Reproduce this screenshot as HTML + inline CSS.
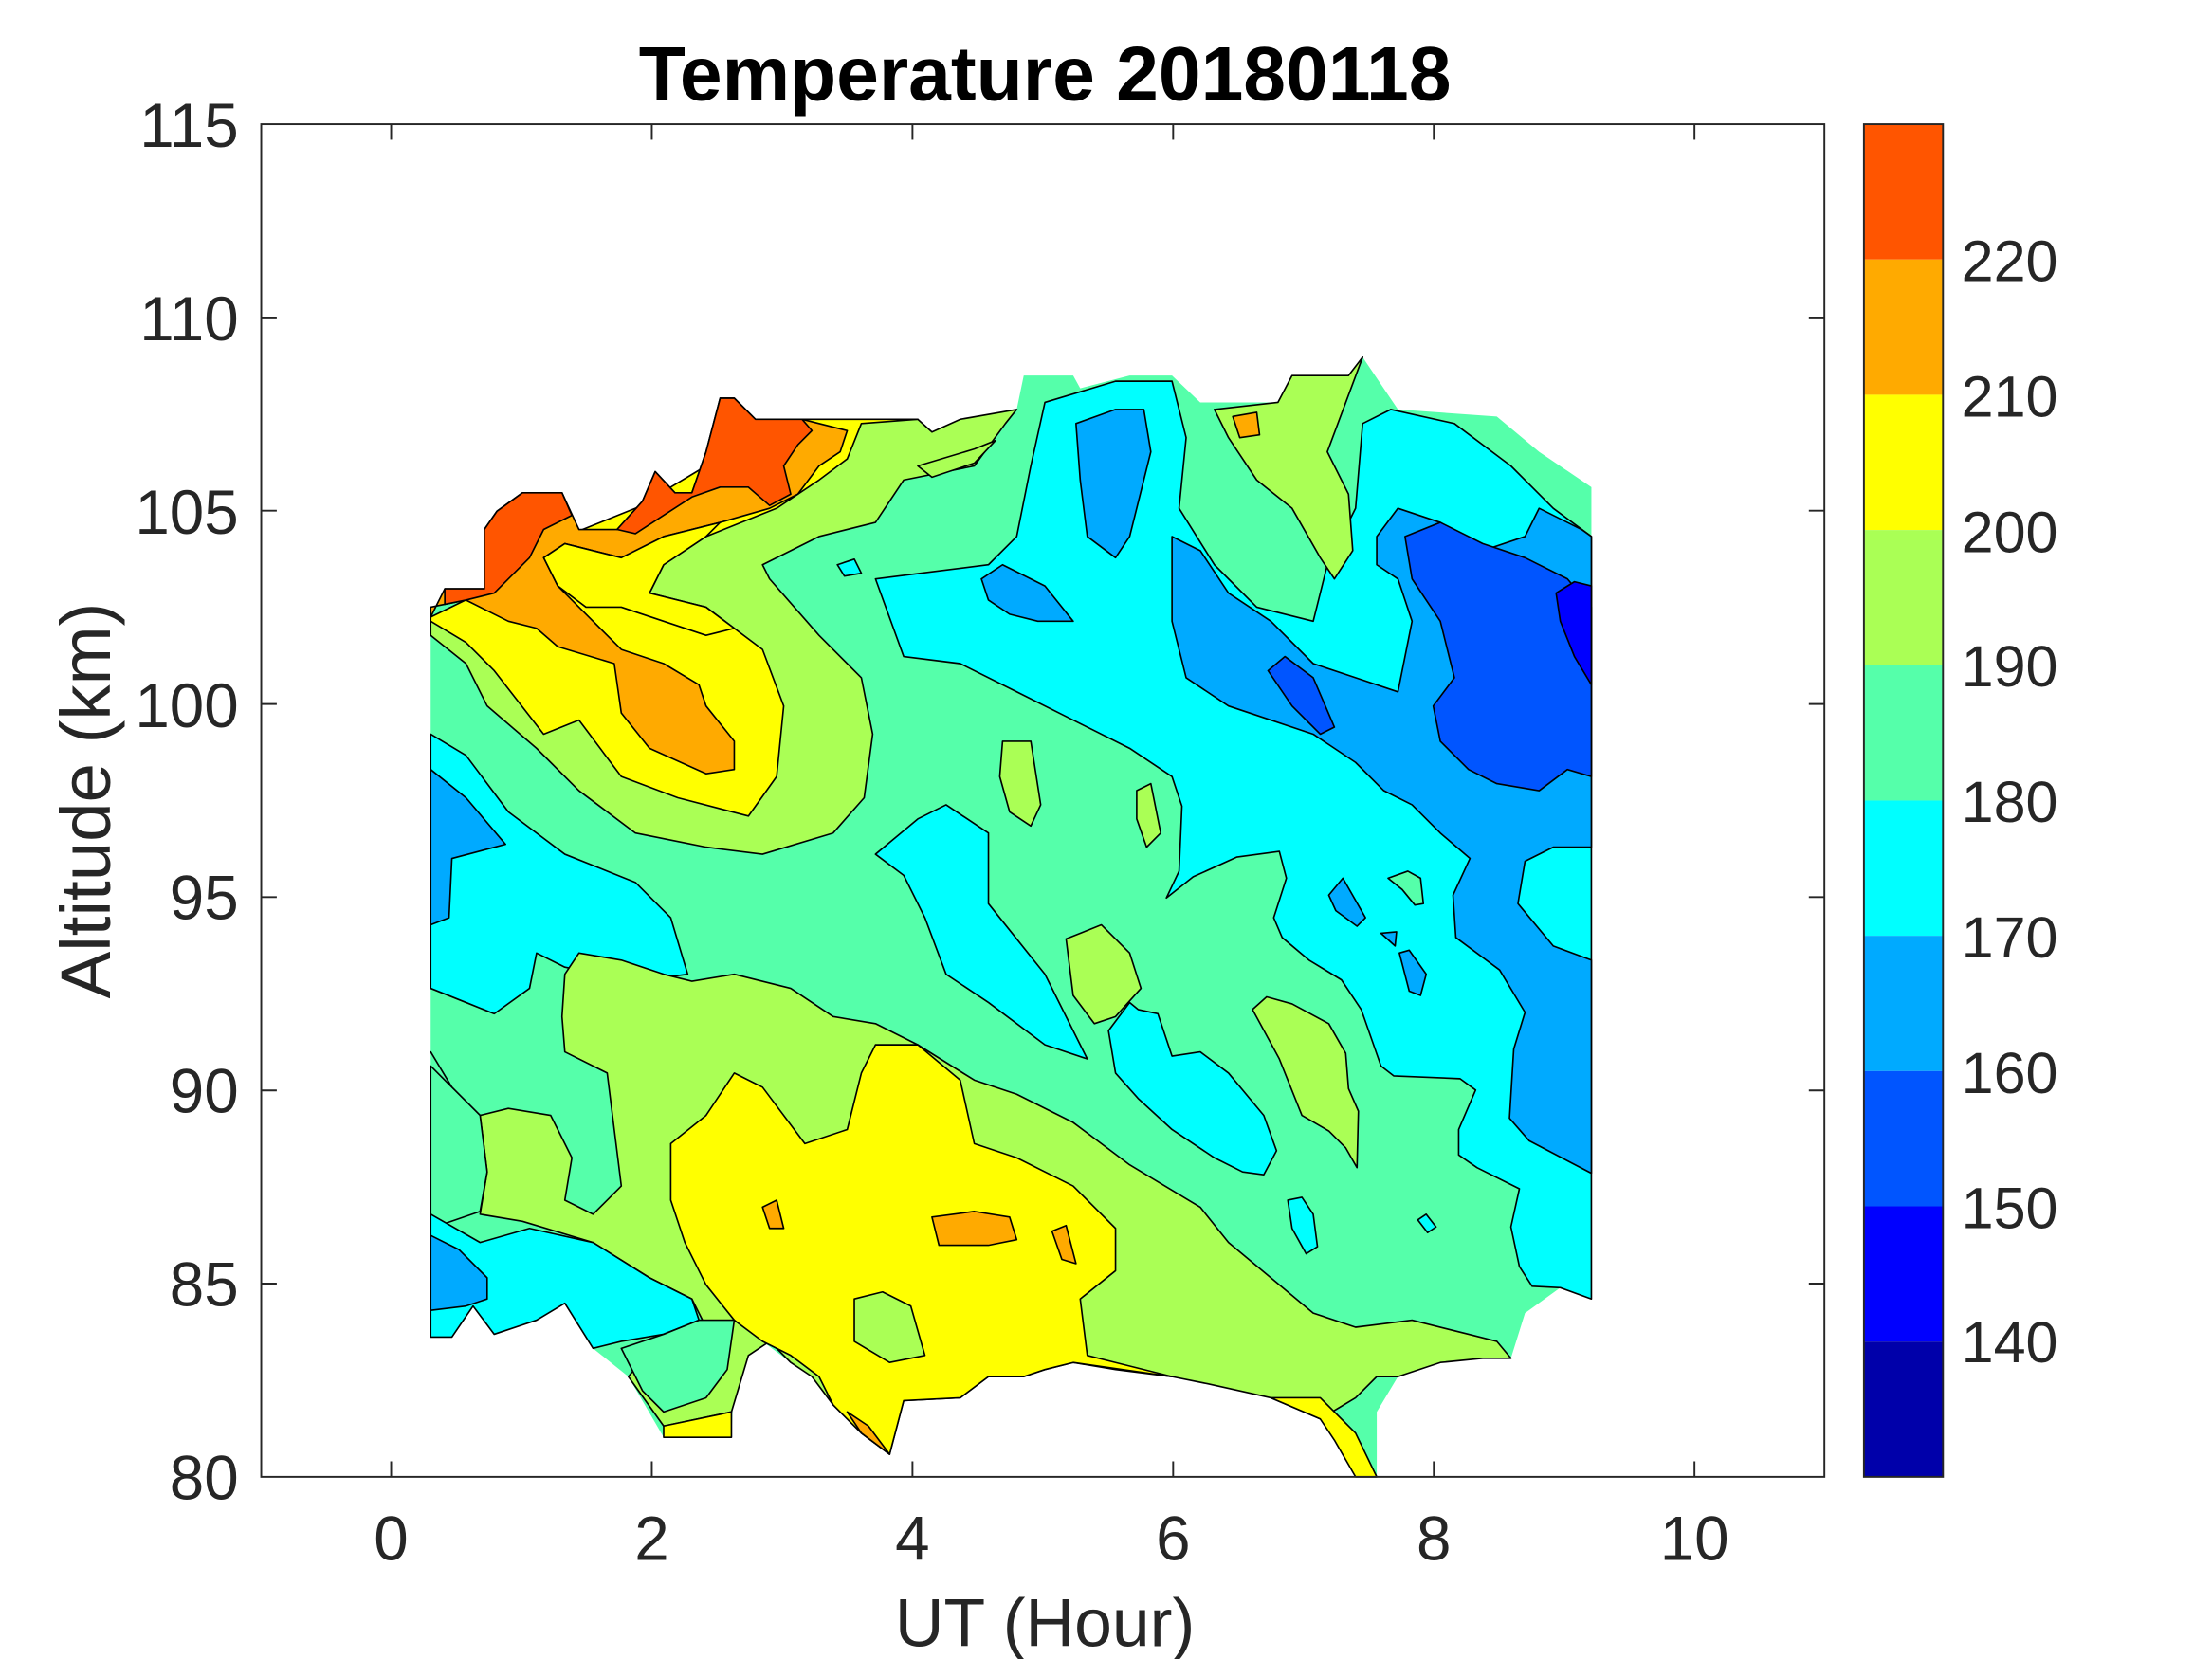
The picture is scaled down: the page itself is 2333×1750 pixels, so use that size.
<!DOCTYPE html>
<html><head><meta charset="utf-8"><style>html,body{margin:0;padding:0;background:#fff}svg{display:block}</style></head>
<body>
<svg width="2333" height="1750" viewBox="0 0 1566.5 1175" preserveAspectRatio="none" xmlns="http://www.w3.org/2000/svg" font-family="Liberation Sans, Arial, sans-serif">
<rect width="1566.5" height="1175" fill="#fff"/>
<g stroke-linejoin="round">
<polygon fill="#55FFAA" points="305,437 315,417 343,417 343,375 352,362 370,349 398,349 410,375 437,375 455,355 464,334 478,349 490,349 500,320 510,282 520,282 535,297 568,297 650,297 660,306 680,297 720,290 725,266 760,266 765,275 800,266 830,266 850,285 905,285 915,266 955,266 965,253 990,290 1060,295 1090,320 1127,345 1127,920 1105,912 1080,930 1070,962 1050,962 1020,965 990,975 975,1000 975,1046 960,1046 945,1020 935,1005 900,990 855,980 830,975 790,970 760,965 740,970 725,975 700,975 680,990 640,992 630,1030 610,1015 590,995 575,975 560,965 540,950 520,970 518,1018 470,1018 445,975 420,955 400,923 380,935 350,945 335,925 320,947 305,947"/>
<g stroke="#000" stroke-width="1.1">
<polygon fill="#AAFF55" points="305,450 330,470 345,500 380,530 410,560 450,590 500,600 540,605 590,590 612,565 618,520 610,480 580,450 545,410 540,400 580,380 620,370 640,340 690,330 712,300 720,290 680,297 660,306 650,297 568,297 535,297 510,290 500,330 470,360 420,380 350,420 305,437"/>
<polygon fill="#FFFF00" points="305,440 330,455 350,475 385,520 410,510 440,550 480,565 530,578 550,550 555,500 540,460 500,430 460,420 470,400 500,380 550,360 580,340 600,325 610,300 650,297 568,297 540,310 500,330 450,360 400,380 340,420 305,437"/>
<polygon fill="#FFAA00" points="305,437 315,417 343,417 343,375 352,362 370,349 398,349 410,375 437,375 455,355 464,334 478,349 490,349 500,320 510,282 520,282 535,297 568,297 600,305 595,320 580,330 565,350 545,360 510,370 470,380 440,395 400,385 385,395 395,415 410,430 440,460 470,470 495,485 500,500 520,525 520,545 500,548 460,530 440,505 435,470 395,458 380,445 360,440 330,425 305,430"/>
<polygon fill="#FFFF00" points="385,395 400,385 440,395 470,380 510,370 500,380 470,400 460,420 500,430 520,445 500,450 470,440 440,430 415,430 395,415"/>
<polygon fill="#FF5500" points="315,417 343,417 343,375 352,362 370,349 398,349 405,365 385,375 375,395 350,420 330,425 315,428"/>
<polygon fill="#FF5500" points="437,375 455,355 464,334 478,349 490,349 500,320 510,282 520,282 535,297 568,297 575,305 565,315 555,330 560,350 545,358 530,345 510,345 490,352 470,365 450,378"/>
<polygon fill="#AAFF55" points="650,330 690,318 705,312 690,328 660,338"/>
<polygon fill="#00FFFF" points="305,520 330,535 360,575 400,605 450,625 475,650 487,690 450,695 400,685 380,675 375,700 350,718 330,710 305,700"/>
<polygon fill="#00AAFF" points="305,545 330,565 358,598 320,608 318,650 305,655"/>
<polygon fill="#00FFFF" points="620,410 660,405 700,400 720,380 730,330 740,285 790,270 830,270 840,310 835,360 860,400 890,430 930,440 940,400 960,360 965,300 985,290 1030,300 1070,330 1100,360 1127,380 1127,920 1105,912 1085,911 1076,897 1070,869 1076,842 1046,827 1033,818 1033,800 1045,772 1034,764 987,762 978,755 964,715 950,694 927,680 908,664 902,650 911,622 906,603 876,607 845,621 826,636 835,617 837,571 830,550 800,530 760,510 720,490 680,470 640,465"/>
<polygon fill="#00FFFF" points="785,730 800,710 806,715 820,718 830,748 850,745 870,760 895,790 904,815 895,832 880,830 860,820 830,800 806,778 790,760"/>
<polygon fill="#00FFFF" points="620,605 650,580 670,570 700,590 700,640 740,690 770,750 740,740 700,710 670,690 655,650 640,620"/>
<polygon fill="#00AAFF" points="975,380 990,360 1020,370 1050,390 1080,380 1090,360 1120,375 1127,380 1127,600 1100,600 1080,610 1075,640 1100,670 1127,680 1127,831 1083,808 1069,792 1072,743 1080,717 1062,687 1031,664 1029,634 1041,608 1020,590 1000,570 980,560 960,540 930,520 900,510 870,500 840,480 830,440 830,380 850,390 870,420 900,440 930,470 960,480 990,490 1000,440 990,410 975,400"/>
<polygon fill="#00AAFF" points="762,300 790,290 810,290 815,320 800,380 790,395 770,380 765,340"/>
<polygon fill="#00AAFF" points="695,410 710,400 740,415 760,440 735,440 715,435 700,425"/>
<polygon fill="#00AAFF" points="941,634 951,622 967,650 961,656 946,645"/>
<polygon fill="#00AAFF" points="978,661 989,660 988,670"/>
<polygon fill="#00AAFF" points="991,675 998,673 1010,690 1006,705 998,702"/>
<polygon fill="#0055FF" points="995,380 1020,370 1050,385 1080,395 1110,410 1127,430 1127,550 1110,545 1090,560 1060,555 1040,545 1020,525 1015,500 1030,480 1020,440 1000,410"/>
<polygon fill="#0055FF" points="898,475 910,465 930,480 945,515 935,520 915,500"/>
<polygon fill="#0000FF" points="1102,420 1115,412 1127,415 1127,485 1115,465 1105,440"/>
<polygon fill="#AAFF55" points="710,525 730,525 737,570 730,585 715,575 708,550"/>
<polygon fill="#AAFF55" points="805,560 815,555 822,590 812,600 805,580"/>
<polygon fill="#AAFF55" points="755,665 780,655 800,675 808,700 790,720 775,725 760,705"/>
<polygon fill="#AAFF55" points="887,715 897,706 915,711 941,725 953,746 955,771 962,787 961,827 953,813 941,801 922,790 906,750"/>
<polygon fill="#55FFAA" points="983,622 997,617 1006,622 1008,640 1002,641 993,630"/>
<polygon fill="#AAFF55" points="860,290 905,285 915,266 955,266 965,253 940,320 955,350 958,390 945,410 935,395 915,360 890,340 870,310"/>
<polygon fill="#FFAA00" points="873,295 890,292 892,308 878,310"/>
<polygon fill="#00FFFF" points="912,850 922,848 930,860 933,883 925,888 915,870"/>
<polygon fill="#00FFFF" points="1004,864 1010,860 1017,869 1011,873"/>
<polygon fill="#00FFFF" points="593,400 605,396 610,406 598,408"/>
<polygon fill="#AAFF55" points="305,745 320,770 340,790 345,830 340,860 370,865 420,880 460,905 490,920 500,940 470,945 445,975 470,1010 518,1000 530,960 545,950 560,965 575,975 590,995 610,1015 630,1030 640,992 680,990 700,975 725,975 740,970 760,965 790,970 830,975 855,980 900,990 935,1005 960,990 975,975 990,975 1020,965 1050,962 1070,962 1060,950 1040,945 1000,935 960,940 930,930 900,905 870,880 850,855 825,840 800,825 780,810 760,795 720,775 690,765 650,740 620,725 590,720 560,700 520,690 490,695 470,690 440,680 410,675 400,690 398,720 400,745 430,760 435,800 440,840 420,860 400,850 405,820 390,790 360,785 340,790 320,770"/>
<polygon fill="#55FFAA" points="305,870 340,858 345,830 340,790 320,770 305,755"/>
<polygon fill="#FFFF00" points="475,810 500,790 520,760 540,770 570,810 600,800 610,760 620,740 650,740 680,765 690,810 720,820 760,840 790,870 790,900 765,920 770,960 790,965 830,975 760,965 740,970 725,975 700,975 680,990 640,992 630,1030 610,1015 590,995 580,975 560,960 540,950 520,935 500,910 485,880 475,850"/>
<polygon fill="#AAFF55" points="605,920 625,915 645,925 655,960 630,965 605,950"/>
<polygon fill="#FFAA00" points="660,862 690,858 715,862 720,878 700,882 665,882"/>
<polygon fill="#FFAA00" points="540,855 550,850 555,870 545,870"/>
<polygon fill="#FFAA00" points="745,872 755,868 762,895 752,892"/>
<polygon fill="#FFFF00" points="900,990 935,990 960,1015 975,1046 960,1046 945,1020 935,1005"/>
<polygon fill="#FFFF00" points="470,1010 518,1000 518,1018 470,1018"/>
<polygon fill="#FFAA00" points="600,1000 615,1010 630,1030 610,1015"/>
<polygon fill="#00FFFF" points="305,860 340,880 375,870 420,880 460,905 490,920 495,935 470,945 440,950 420,955 400,923 380,935 350,945 335,925 320,947 305,947"/>
<polygon fill="#00AAFF" points="305,875 325,885 345,905 345,920 330,925 305,928"/>
<polygon fill="#55FFAA" points="440,955 470,945 495,935 520,935 515,970 500,990 470,1000 455,985"/>
</g>
</g>
<rect x="185" y="88" width="1107" height="958" fill="none" stroke="#262626" stroke-width="1.3"/>
<g stroke="#262626" stroke-width="1.3">
<line x1="277" y1="1046" x2="277" y2="1035"/><line x1="461.6" y1="1046" x2="461.6" y2="1035"/><line x1="646.2" y1="1046" x2="646.2" y2="1035"/><line x1="830.8" y1="1046" x2="830.8" y2="1035"/><line x1="1015.4" y1="1046" x2="1015.4" y2="1035"/><line x1="1200" y1="1046" x2="1200" y2="1035"/>
<line x1="277" y1="88" x2="277" y2="99"/><line x1="461.6" y1="88" x2="461.6" y2="99"/><line x1="646.2" y1="88" x2="646.2" y2="99"/><line x1="830.8" y1="88" x2="830.8" y2="99"/><line x1="1015.4" y1="88" x2="1015.4" y2="99"/><line x1="1200" y1="88" x2="1200" y2="99"/>
<line x1="185" y1="224.9" x2="196" y2="224.9"/><line x1="185" y1="361.7" x2="196" y2="361.7"/><line x1="185" y1="498.6" x2="196" y2="498.6"/><line x1="185" y1="635.4" x2="196" y2="635.4"/><line x1="185" y1="772.3" x2="196" y2="772.3"/><line x1="185" y1="909.1" x2="196" y2="909.1"/>
<line x1="1292" y1="224.9" x2="1281" y2="224.9"/><line x1="1292" y1="361.7" x2="1281" y2="361.7"/><line x1="1292" y1="498.6" x2="1281" y2="498.6"/><line x1="1292" y1="635.4" x2="1281" y2="635.4"/><line x1="1292" y1="772.3" x2="1281" y2="772.3"/><line x1="1292" y1="909.1" x2="1281" y2="909.1"/>
</g>
<g font-size="44" fill="#262626" text-anchor="end">
<text x="169" y="104">115</text><text x="169" y="241">110</text><text x="169" y="378">105</text><text x="169" y="515">100</text><text x="169" y="651">95</text><text x="169" y="788">90</text><text x="169" y="925">85</text><text x="169" y="1062">80</text>
</g>
<g font-size="44" fill="#262626" text-anchor="middle">
<text x="277" y="1105">0</text><text x="461.6" y="1105">2</text><text x="646.2" y="1105">4</text><text x="830.8" y="1105">6</text><text x="1015.4" y="1105">8</text><text x="1200" y="1105">10</text>
</g>
<text x="740" y="1166" font-size="48" fill="#262626" text-anchor="middle">UT (Hour)</text>
<text transform="translate(78,567) rotate(-90)" font-size="50" fill="#262626" text-anchor="middle">Altitude (km)</text>
<text x="740" y="71" font-size="54" font-weight="bold" fill="#000" text-anchor="middle">Temperature 20180118</text>
<g>
<rect x="1320" y="88" width="56" height="95.8" fill="#FF5500"/>
<rect x="1320" y="183.8" width="56" height="95.8" fill="#FFAA00"/>
<rect x="1320" y="279.6" width="56" height="95.8" fill="#FFFF00"/>
<rect x="1320" y="375.4" width="56" height="95.8" fill="#AAFF55"/>
<rect x="1320" y="471.2" width="56" height="95.8" fill="#55FFAA"/>
<rect x="1320" y="567" width="56" height="95.8" fill="#00FFFF"/>
<rect x="1320" y="662.8" width="56" height="95.8" fill="#00AAFF"/>
<rect x="1320" y="758.6" width="56" height="95.8" fill="#0055FF"/>
<rect x="1320" y="854.4" width="56" height="95.8" fill="#0000FF"/>
<rect x="1320" y="950.2" width="56" height="95.8" fill="#0000AA"/>
<rect x="1320" y="88" width="56" height="958" fill="none" stroke="#262626" stroke-width="1.3"/>
</g>
<g font-size="41" fill="#262626">
<text x="1389" y="199">220</text><text x="1389" y="295">210</text><text x="1389" y="391">200</text><text x="1389" y="486">190</text><text x="1389" y="582">180</text><text x="1389" y="678">170</text><text x="1389" y="774">160</text><text x="1389" y="870">150</text><text x="1389" y="965">140</text>
</g>
</svg>
</body></html>
